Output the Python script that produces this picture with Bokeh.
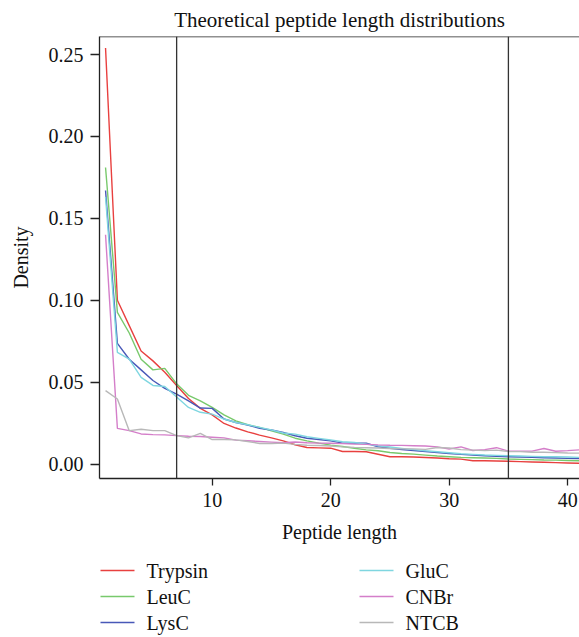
from bokeh.plotting import figure
from bokeh.layouts import column
from bokeh.models import Span, FixedTicker, NumeralTickFormatter, Range1d
from bokeh.core.properties import value
from bokeh.embed import file_html
from bokeh.resources import INLINE

# ---- data ----
lengths = [1, 2, 3, 4, 5, 6, 7, 8, 9, 10, 11, 12, 13, 14, 15, 16, 17, 18, 19, 20, 21,
           22, 23, 24, 25, 26, 27, 28, 29, 30, 31, 32, 33, 34, 35, 36, 37, 38, 39, 40, 41]

trypsin = [0.254, 0.100, 0.0845, 0.069, 0.063, 0.056, 0.048, 0.040, 0.034, 0.030, 0.0248,
           0.022, 0.0197, 0.0177, 0.016, 0.0142, 0.0118, 0.0101, 0.0099, 0.0097, 0.0077,
           0.0077, 0.0075, 0.006, 0.0045, 0.0045, 0.0043, 0.004, 0.0037, 0.0033, 0.003,
           0.002, 0.002, 0.0019, 0.0017, 0.0015, 0.0013, 0.0011, 0.0009, 0.0007, 0.0005]
leuc = [0.181, 0.0926, 0.080, 0.064, 0.0575, 0.0584, 0.049, 0.042, 0.0386, 0.0346, 0.030,
        0.0264, 0.024, 0.0224, 0.0203, 0.0183, 0.0158, 0.0142, 0.0128, 0.0116, 0.0107,
        0.0097, 0.0087, 0.0081, 0.0071, 0.0065, 0.0061, 0.0055, 0.0049, 0.0045, 0.0041,
        0.0039, 0.0037, 0.0035, 0.0031, 0.0029, 0.0027, 0.0025, 0.0024, 0.0022, 0.002]
lysc = [0.167, 0.0737, 0.064, 0.0575, 0.051, 0.0462, 0.0427, 0.0386, 0.0342, 0.034, 0.0275,
        0.0254, 0.0238, 0.0218, 0.0208, 0.0193, 0.0173, 0.0158, 0.015, 0.0142, 0.0128,
        0.0128, 0.0128, 0.0106, 0.0097, 0.0089, 0.0083, 0.0077, 0.0071, 0.0065, 0.0059,
        0.0055, 0.0051, 0.0047, 0.0045, 0.0043, 0.0041, 0.0039, 0.0037, 0.0035, 0.0033]
gluc = [0.163, 0.0682, 0.0641, 0.0529, 0.048, 0.0474, 0.041, 0.0346, 0.0316, 0.0305, 0.0275,
        0.0254, 0.024, 0.0224, 0.0208, 0.019, 0.0183, 0.0167, 0.0157, 0.0147, 0.0136,
        0.0132, 0.0122, 0.0112, 0.0104, 0.0096, 0.0088, 0.0081, 0.0075, 0.0069, 0.0063,
        0.0059, 0.0055, 0.0053, 0.0051, 0.0049, 0.0047, 0.0045, 0.0045, 0.0043, 0.0041]
cnbr = [0.140, 0.0218, 0.0204, 0.0184, 0.018, 0.0178, 0.0174, 0.017, 0.0168, 0.0164, 0.016,
        0.0146, 0.0142, 0.0138, 0.0134, 0.013, 0.0135, 0.013, 0.0128, 0.0127, 0.0125,
        0.0122, 0.012, 0.0117, 0.0115, 0.0114, 0.0112, 0.011, 0.0105, 0.0092, 0.0105,
        0.0083, 0.0088, 0.0100, 0.0079, 0.0078, 0.0079, 0.0095, 0.0078, 0.0082, 0.0087]
ntcb = [0.0448, 0.0397, 0.0204, 0.0213, 0.0204, 0.0204, 0.0174, 0.016, 0.0188, 0.015, 0.015,
        0.0148, 0.0138, 0.0126, 0.0126, 0.0128, 0.012, 0.0115, 0.0113, 0.011, 0.0105,
        0.0102, 0.010, 0.0098, 0.0095, 0.0093, 0.0093, 0.009, 0.0101, 0.0098, 0.0088,
        0.0085, 0.0082, 0.0085, 0.0077, 0.0076, 0.0072, 0.0072, 0.0070, 0.0068, 0.0067]

series_names = ["Trypsin", "LeuC", "LysC", "GluC", "CNBr", "NTCB"]
series_values = [trypsin, leuc, lysc, gluc, cnbr, ntcb]
series_colors = ["#e8403f", "#78c96c", "#4858b8", "#7fd6e0", "#d47ec9", "#b8b8b8"]

cutoffs = [7, 35]
x_ticks = [10, 20, 30, 40]
y_ticks = [0.0, 0.05, 0.10, 0.15, 0.20, 0.25]

FONT = "Liberation Serif"
W = 579
LEFT = 99
H_MAIN = 550
H_LEG = 87

p = figure(width=W, height=H_MAIN, output_backend="svg", toolbar_location=None,
           x_range=Range1d(0.49, 41.0), y_range=Range1d(-0.0088, 0.261),
           title="Theoretical peptide length distributions",
           min_border_left=LEFT, min_border_right=0, min_border_top=36, min_border_bottom=72)

p.title.text_font = FONT
p.title.text_font_size = "21px"
p.title.text_font_style = "normal"
p.title.text_color = "#111111"
p.title.align = "center"
p.title.standoff = 10
p.title.offset = 0

p.outline_line_color = None
p.xgrid.visible = False
p.ygrid.visible = False
p.background_fill_color = "white"
p.border_fill_color = "white"

for ax in (p.xaxis[0], p.yaxis[0]):
    ax.axis_line_color = "#222222"
    ax.axis_line_width = 1.3
    ax.major_tick_line_color = "#222222"
    ax.major_tick_line_width = 1.3
    ax.major_tick_in = 0
    ax.minor_tick_line_color = None
    ax.major_label_text_font = FONT
    ax.major_label_text_font_size = "20px"
    ax.major_label_text_color = "#111111"
    ax.axis_label_text_font = FONT
    ax.axis_label_text_font_size = "20px"
    ax.axis_label_text_font_style = "normal"
    ax.axis_label_text_color = "#111111"

p.xaxis[0].ticker = FixedTicker(ticks=x_ticks)
p.xaxis[0].major_tick_out = 7
p.xaxis[0].major_label_standoff = 7
p.xaxis[0].axis_label = "Peptide length"
p.xaxis[0].axis_label_standoff = 11

p.yaxis[0].ticker = FixedTicker(ticks=y_ticks)
p.yaxis[0].formatter = NumeralTickFormatter(format="0.00")
p.yaxis[0].major_tick_out = 9
p.yaxis[0].major_label_standoff = 7
p.yaxis[0].axis_label = "Density"
p.yaxis[0].axis_label_standoff = 14

# top border of the box
p.add_layout(Span(location=0.261, dimension="width", line_color="#222222", line_width=1.3))

for name, vals, col in zip(series_names, series_values, series_colors):
    p.line(lengths, vals, line_color=col, line_width=1.4)

for c in cutoffs:
    p.add_layout(Span(location=c, dimension="height", line_color="#333333", line_width=1.3))

# ---- legend drawn as a separate strip below (two columns, three rows) ----
# x coordinates of this strip are page pixels (its frame spans LEFT..W)
leg = figure(width=W, height=H_LEG, output_backend="svg", toolbar_location=None,
             x_range=Range1d(LEFT, W), y_range=Range1d(H_LEG, 0),
             x_axis_type=None, y_axis_type=None,
             min_border_left=LEFT, min_border_right=0, min_border_top=0, min_border_bottom=0)
leg.outline_line_color = None
leg.xgrid.visible = False
leg.ygrid.visible = False
leg.background_fill_color = "white"
leg.border_fill_color = "white"

col_x = [100, 359]       # left end of the key line per column
row_y = [20, 46, 72]     # row centres inside the strip
key_len = 34
gap = 12
x0s, x1s, ys, tx = [], [], [], []
for i in range(len(series_names)):
    c, r = divmod(i, 3)
    x0s.append(col_x[c])
    x1s.append(col_x[c] + key_len)
    ys.append(row_y[r])
    tx.append(col_x[c] + key_len + gap)

leg.segment(x0=x0s, y0=ys, x1=x1s, y1=ys, line_color=series_colors, line_width=1.4)
leg.text(x=tx, y=ys, text=series_names, text_font=value(FONT), text_font_size="20px",
         text_color="#111111", text_baseline="middle", text_align="left")

layout = column(p, leg, spacing=0)
open("out.html", "w").write(file_html(layout, INLINE))
